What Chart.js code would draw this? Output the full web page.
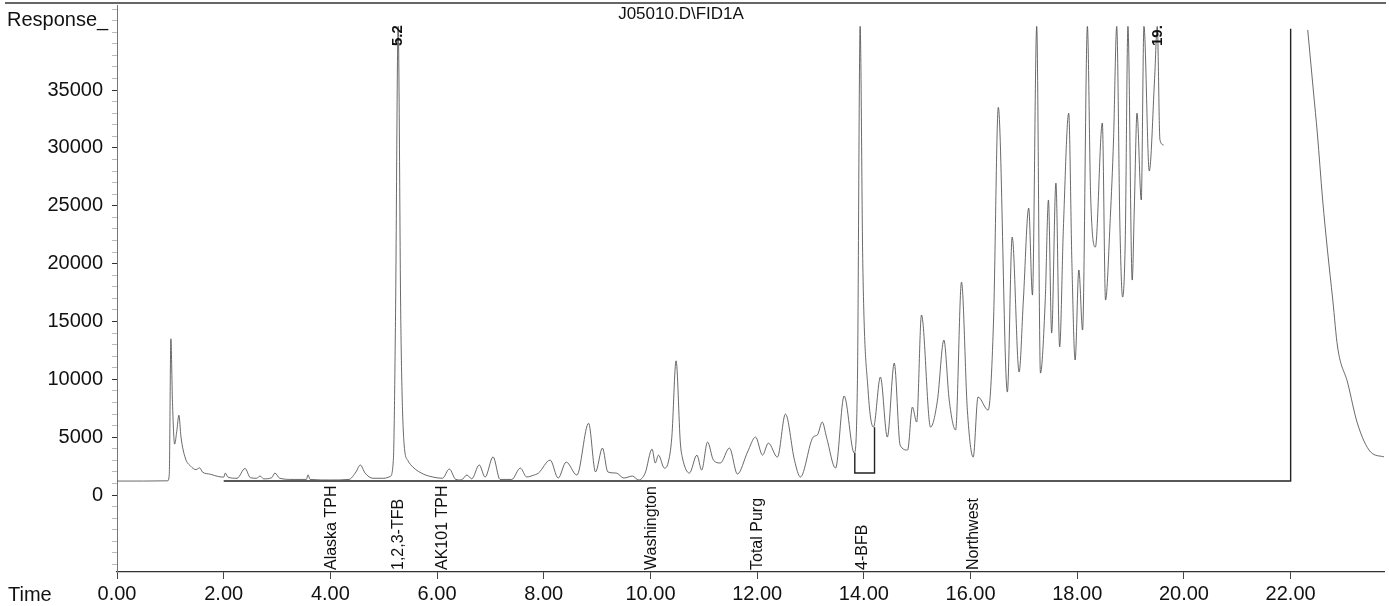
<!DOCTYPE html>
<html>
<head>
<meta charset="utf-8">
<title>J05010.D\FID1A</title>
<script src="https://cdn.jsdelivr.net/npm/chart.js@4.4.1/dist/chart.umd.min.js"></script>
<style>
  body { margin: 0; background: #fff; }
  canvas { display: block; }
</style>
</head>
<body>
<canvas id="chromChart" width="1389" height="606"></canvas>
<script>
// retention time (min) and detector response
const times = [
  0.00, 0.50, 0.95, 0.98, 1.01, 1.04, 1.08, 1.12, 1.16, 1.20, 1.28, 1.38, 1.48, 1.55, 1.60, 1.75, 1.90,
  2.00, 2.03, 2.08, 2.25, 2.40, 2.50, 2.62, 2.68, 2.75, 2.90, 2.96, 3.05, 3.30, 3.55, 3.58, 3.62,
  4.00, 4.35, 4.48, 4.56, 4.65, 4.80, 5.00, 5.12, 5.18, 5.22, 5.27, 5.32, 5.38, 5.45, 5.55, 5.75, 5.93,
  6.10, 6.23, 6.35, 6.45, 6.56, 6.65, 6.79, 6.90, 7.05, 7.18, 7.40, 7.56, 7.68, 7.80, 7.90,
  8.12, 8.27, 8.42, 8.62, 8.84, 8.97, 9.10, 9.20, 9.36, 9.50, 9.66, 9.78, 9.90,
  10.03, 10.09, 10.15, 10.26, 10.33, 10.40, 10.48, 10.56, 10.60, 10.73, 10.87, 10.96,
  11.07, 11.18, 11.31, 11.48, 11.63, 11.82, 11.97, 12.10, 12.21, 12.38, 12.53, 12.70, 12.81,
  13.05, 13.13, 13.22, 13.30, 13.47, 13.63, 13.82, 13.88, 13.93, 13.98, 14.08, 14.18, 14.31, 14.44,
  14.57, 14.68, 14.82, 14.91, 14.99, 15.08, 15.25, 15.38, 15.50, 15.60, 15.72, 15.83, 15.94,
  16.05, 16.14, 16.33, 16.43, 16.52, 16.69, 16.78, 16.91, 16.99, 17.09, 17.16, 17.24, 17.31,
  17.40, 17.46, 17.52, 17.60, 17.67, 17.74, 17.84, 17.90, 17.96, 18.03, 18.10, 18.19, 18.25,
  18.34, 18.47, 18.53, 18.62, 18.68, 18.74, 18.80, 18.85, 18.90, 18.95, 19.03, 19.07, 19.12,
  19.20, 19.25, 19.35, 19.45, 19.50, 19.55, 19.62, 19.66,
  22.32, 22.43, 22.50, 22.60, 22.69, 22.79, 22.88, 23.07, 23.25, 23.50, 23.75
];
const responses = [
  1210, 1210, 1230, 1800, 13500, 8000, 4400, 5500, 6900, 5000, 3200, 2500, 2200, 2350, 2000, 1800, 1600,
  1550, 1900, 1550, 1450, 2300, 1500, 1450, 1650, 1400, 1500, 1900, 1450, 1350, 1350, 1750, 1350,
  1300, 1350, 2000, 2600, 1900, 1450, 1450, 1600, 3000, 15000, 40500, 15000, 4500, 3000, 2400, 1800, 1550,
  1450, 2250, 1350, 1300, 1730, 1400, 2600, 1550, 3300, 1350, 1350, 2330, 1560, 1700, 1900,
  3020, 1470, 2850, 1730, 6200, 2000, 4060, 2000, 1900, 1470, 1640, 1300, 1900,
  3970, 2770, 3450, 2330, 2770, 5000, 11600, 4500, 3200, 1900, 3450, 2160,
  4580, 3020, 2770, 4060, 1820, 3720, 5010, 3450, 4490, 3280, 7000, 3000, 1560,
  5010, 5200, 6310, 5000, 2330, 8560, 3630, 10000, 40500, 20000, 9000, 5870, 10200, 5010,
  11400, 4320, 3890, 7600, 6310, 15560, 5870, 8200, 13400, 8200, 5620, 18400, 7340,
  3280, 8470, 7340, 14950, 33500, 8900, 22300, 10630, 16850, 24800, 17280, 40500, 10540,
  16850, 25500, 14000, 26960, 12800, 23070, 33000, 20000, 11670, 19450, 14260, 40500, 26000,
  21430, 32150, 16850, 24000, 30680, 40500, 23160, 17110, 22040, 40500, 18580, 24890, 33000,
  25500, 40500, 28000, 36000, 40500, 30700, 30250, null,
  40200, 34740, 31280, 25500, 21170, 16850, 12790, 9680, 6220, 3720, 3300
];

// integration baseline drawn by the data system
const baselineTimes = [2.00, 22.00, 22.00, null, 13.83, 13.83, 14.20, 14.20];
const baselineValues = [1210, 1210, 40300, null, 3630, 1900, 1900, 5870];

// labelled y ticks and the minor tick step
const yLabelTicks = [0, 5000, 10000, 15000, 20000, 25000, 30000, 35000];
const yMinorStep = 1000;
const xLabelStep = 2;

// compound windows printed under the trace
const compoundNames = ['Alaska TPH', '1,2,3-TFB', 'AK101 TPH', 'Washington', 'Total Purg', '4-BFB', 'Northwest'];
const compoundTimes = [4.03, 5.27, 6.10, 10.03, 12.00, 13.97, 16.05];

// retention time tags at the top of the trace
const peakTags = ['5.2', '19.'];
const peakTagTimes = [5.27, 19.52];

const FONT = "'Liberation Sans', Arial, sans-serif";
const Y_MIN = -6650;
const Y_MAX = 42350;

function toPoints(xs, ys) {
  return xs.map((x, i) => ({ x: x === null ? NaN : x, y: ys[i] }));
}

const textPlugin = {
  id: 'chromText',
  afterDraw(chart) {
    const ctx = chart.ctx;
    const xScale = chart.scales.x;
    ctx.save();

    // frame line along the top
    ctx.strokeStyle = '#333';
    ctx.lineWidth = 1.5;
    ctx.beginPath();
    ctx.moveTo(5, 3);
    ctx.lineTo(1386, 3);
    ctx.stroke();

    ctx.fillStyle = '#111';
    ctx.font = '20px ' + FONT;
    ctx.textBaseline = 'alphabetic';
    ctx.textAlign = 'left';
    ctx.fillText('Response_', 7, 26);
    ctx.fillText('Time', 8, 601);

    ctx.font = '17px ' + FONT;
    ctx.textAlign = 'center';
    ctx.fillText('J05010.D\\FID1A', 681, 19);

    // compound labels, vertical, standing on the time axis
    ctx.font = '16px ' + FONT;
    compoundNames.forEach((name, i) => {
      const px = xScale.getPixelForValue(compoundTimes[i]);
      ctx.save();
      ctx.translate(px, 570);
      ctx.rotate(-Math.PI / 2);
      ctx.textAlign = 'left';
      ctx.textBaseline = 'middle';
      ctx.fillText(name, 0, 0);
      ctx.restore();
    });

    // peak time tags
    ctx.font = 'bold 15px ' + FONT;
    peakTags.forEach((tag, i) => {
      const px = xScale.getPixelForValue(peakTagTimes[i]);
      ctx.save();
      ctx.translate(px, 46);
      ctx.rotate(-Math.PI / 2);
      ctx.textAlign = 'left';
      ctx.textBaseline = 'middle';
      ctx.fillText(tag, 0, 0);
      ctx.restore();
    });

    ctx.restore();
  }
};

new Chart(document.getElementById('chromChart'), {
  type: 'line',
  data: {
    datasets: [
      {
        label: 'FID1A',
        data: toPoints(times, responses),
        borderColor: 'rgba(80, 80, 80, 0.85)',
        borderWidth: 1,
        pointRadius: 0,
        cubicInterpolationMode: 'monotone',
        spanGaps: false,
        fill: false
      },
      {
        label: 'baseline',
        data: toPoints(baselineTimes, baselineValues),
        borderColor: '#222',
        borderWidth: 1.4,
        pointRadius: 0,
        tension: 0,
        spanGaps: false,
        fill: false
      }
    ]
  },
  options: {
    responsive: false,
    animation: false,
    layout: { padding: { left: 0, top: 5, right: 5, bottom: 0 } },
    plugins: {
      legend: { display: false },
      tooltip: { enabled: false }
    },
    scales: {
      x: {
        type: 'linear',
        min: 0,
        max: 23.75,
        afterFit(scale) {
          scale.height = 34;
          scale.paddingLeft = 0;
          scale.paddingRight = 0;
        },
        grid: { display: true, drawOnChartArea: false, tickLength: 7, color: '#444' },
        border: { display: true, color: '#333', width: 1.2 },
        ticks: {
          stepSize: xLabelStep,
          includeBounds: false,
          autoSkip: false,
          maxRotation: 0,
          padding: 3,
          color: '#111',
          font: { family: FONT, size: 20 },
          callback: (v) => v.toFixed(2)
        }
      },
      y: {
        type: 'linear',
        min: Y_MIN,
        max: Y_MAX,
        afterBuildTicks(scale) {
          const ticks = [];
          for (let v = Math.ceil(Y_MIN / yMinorStep) * yMinorStep; v <= Y_MAX; v += yMinorStep) {
            ticks.push({ value: v });
          }
          scale.ticks = ticks;
        },
        afterFit(scale) {
          scale.width = 117;
          scale.paddingTop = 0;
          scale.paddingBottom = 0;
        },
        grid: {
          display: true,
          drawOnChartArea: false,
          tickLength: 5,
          color: (c) => (c.tick && yLabelTicks.includes(c.tick.value) ? '#333' : '#bbb')
        },
        border: { display: true, color: '#777', dash: [2, 2] },
        ticks: {
          autoSkip: false,
          padding: 9,
          color: '#111',
          font: { family: FONT, size: 20 },
          callback: (v) => (yLabelTicks.includes(v) ? String(v) : '')
        }
      }
    }
  },
  plugins: [textPlugin]
});
</script>
</body>
</html>
